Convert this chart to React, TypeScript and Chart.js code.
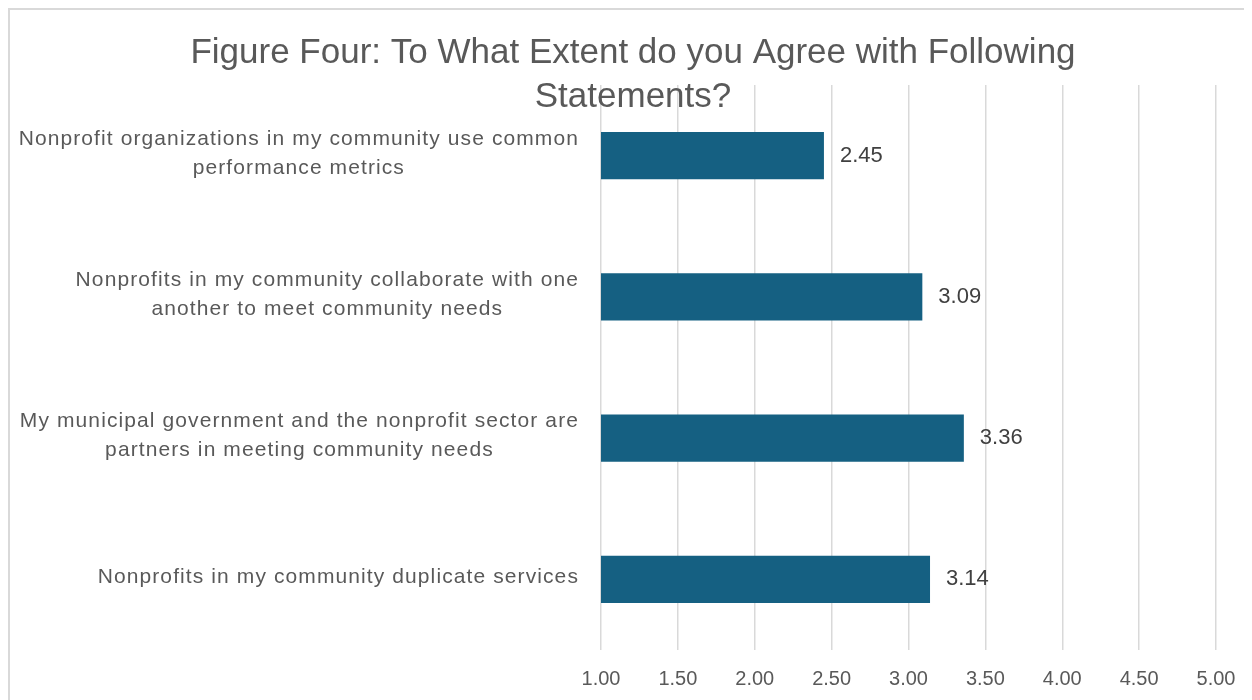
import React, { useEffect, useRef } from "react";
import { Chart, registerables } from "chart.js";

Chart.register(...registerables);

const titleLines = ["Figure Four: To What Extent do you Agree with Following", "Statements?"];
const categories: string[][] = [
  ["Nonprofit organizations in my community use common", "performance metrics"],
  ["Nonprofits in my community collaborate with one", "another to meet community needs"],
  ["My municipal government and the nonprofit sector are", "partners in meeting community needs"],
  ["Nonprofits in my community duplicate services"],
];
const values = [2.45, 3.09, 3.36, 3.14];
const xMin = 1;
const xMax = 5;
const xStep = 0.5;

const FONT = '"Liberation Sans", Arial, sans-serif';

const textPlugin = {
  id: "customText",
  afterDraw(chart: any) {
    const ctx = chart.ctx as CanvasRenderingContext2D;
    const area = chart.chartArea;
    ctx.save();
    ctx.fillStyle = "#595959";
    ctx.font = `35px ${FONT}`;
    ctx.textAlign = "center";
    ctx.textBaseline = "alphabetic";
    titleLines.forEach((l, i) => ctx.fillText(l, chart.width / 2, 53 + i * 44));

    const yScale = chart.scales.y;
    ctx.font = `21px ${FONT}`;
    (ctx as any).letterSpacing = "1.1px";
    ctx.textBaseline = "middle";
    const right = area.left - 22;
    categories.forEach((lines, i) => {
      const cy = yScale.getPixelForValue(i) - 2;
      const w = Math.max(...lines.map((l) => ctx.measureText(l).width));
      const cx = right - w / 2;
      const lh = 29;
      const top = cy - ((lines.length - 1) * lh) / 2;
      lines.forEach((l, j) => ctx.fillText(l, cx, top + j * lh));
    });
    (ctx as any).letterSpacing = "0px";

    const meta = chart.getDatasetMeta(0);
    ctx.font = `22px ${FONT}`;
    ctx.fillStyle = "#404040";
    ctx.textAlign = "left";
    meta.data.forEach((bar: any, i: number) => {
      ctx.fillText(values[i].toFixed(2), bar.x + 16, bar.y);
    });
    ctx.restore();
  },
};

export default function App() {
  const ref = useRef<HTMLCanvasElement | null>(null);
  useEffect(() => {
    document.documentElement.style.overflow = "hidden";
    if (!ref.current) return;
    const chart = new Chart(ref.current, {
      type: "bar",
      data: {
        labels: categories,
        datasets: [
          {
            data: values,
            backgroundColor: "#156082",
            categoryPercentage: 1,
            barPercentage: 0.333,
          },
        ],
      },
      options: {
        indexAxis: "y",
        animation: false,
        responsive: false,
        maintainAspectRatio: false,
        layout: { padding: { left: 583, right: 40, top: 75, bottom: 0 } },
        plugins: {
          legend: { display: false },
          title: { display: false },
          tooltip: { enabled: false },
        },
        scales: {
          x: {
            min: xMin,
            max: xMax,
            ticks: {
              stepSize: xStep,
              callback: (v: any) => Number(v).toFixed(2),
              color: "#595959",
              font: { family: FONT, size: 20 },
              padding: 17,
            },
            grid: { color: "#d9d9d9", lineWidth: 1.5, drawTicks: false },
            border: { display: false },
            afterFit: (s: any) => {
              s.height = 50;
            },
          },
          y: {
            ticks: { display: false },
            grid: { display: false },
            border: { display: false },
          },
        },
      },
      plugins: [textPlugin],
    } as any);
    return () => chart.destroy();
  }, []);
  return (
    <div style={{ width: 1246, height: 690, border: "2px solid #d9d9d9" }}>
      <canvas ref={ref} width={1246} height={690} style={{ display: "block" }} />
    </div>
  );
}
